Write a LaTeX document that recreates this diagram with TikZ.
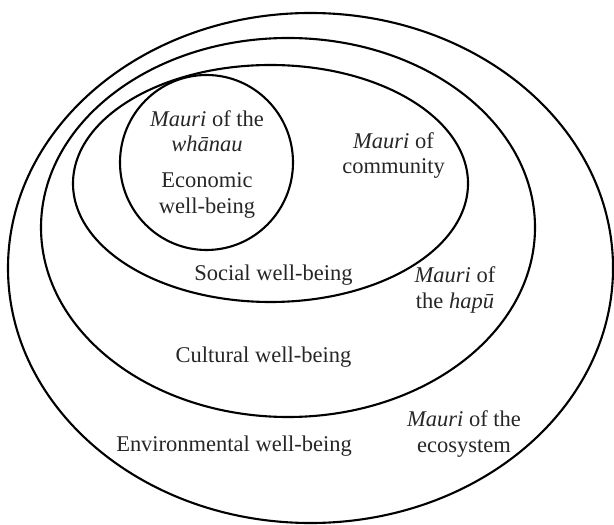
\documentclass[tikz,border=0pt]{standalone}
\usepackage{fontspec}
\setmainfont{Liberation Serif}
\usepackage{tikz}

\begin{document}
\begin{tikzpicture}[lbl/.style={align=center,text=black!85,font=\fontsize{12.8}{14.5}\selectfont}]
        \useasboundingbox (0,0) rectangle (12.28,10.48);

        \draw[very thick](6.21,5.12) ellipse (6.05 and 5.10);
        \draw[very thick](5.76,5.93) ellipse (4.94 and 3.79);
        \draw[very thick](5.41,6.81) ellipse (3.95 and 2.37);
        \draw[very thick](4.13,7.23) ellipse (1.73 and 1.75);

        \node[lbl] (whanau) at (4.14,7.86) {\textit{Mauri} of the\\\textit{whānau}};
        \node[lbl] (economic) at (4.14,6.57) {Economic\\well-being};
        \node[lbl] (community) at (7.87,7.37) {\textit{Mauri} of\\community};
        \node[lbl] (social) at (5.47,4.98) {Social well-being};
        \node[lbl] (hapu) at (9.10,4.68) {\textit{Mauri} of\\the \textit{hapū}};
        \node[lbl] (cultural) at (5.27,3.34) {Cultural well-being};
        \node[lbl] (ecosystem) at (9.28,1.80) {\textit{Mauri} of the\\ecosystem};
        \node[lbl] (environmental) at (4.68,1.56) {Environmental well-being};
    \end{tikzpicture}
\end{document}
